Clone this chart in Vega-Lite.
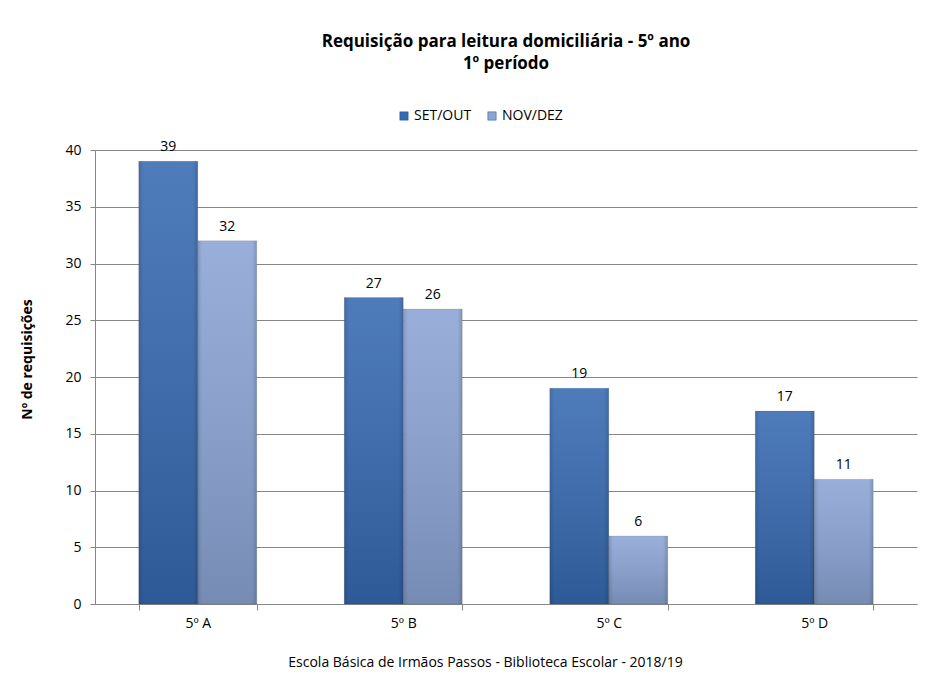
{
  "$schema": "https://vega.github.io/schema/vega-lite/v6.json",
  "width": 822,
  "height": 454,
  "autosize": {"type": "none"},
  "padding": {"left": 95, "top": 150, "right": 28, "bottom": 76},
  "background": "white",
  "title": {
    "text": ["Requisição para leitura domiciliária - 5º ano", "1º período"],
    "font": "Open Sans",
    "fontSize": 17,
    "fontWeight": "bold",
    "color": "#000000",
    "lineHeight": 22,
    "anchor": "middle",
    "offset": 36
  },
  "config": {
    "view": {"stroke": null},
    "font": "Open Sans",
    "axis": {"labelFont": "Open Sans", "titleFont": "Open Sans", "labelColor": "#000000", "titleColor": "#000000"}
  },
  "data": {
    "values": [
      {"turma": "5º A", "periodo": "SET/OUT", "valor": 39},
      {"turma": "5º A", "periodo": "NOV/DEZ", "valor": 32},
      {"turma": "5º B", "periodo": "SET/OUT", "valor": 27},
      {"turma": "5º B", "periodo": "NOV/DEZ", "valor": 26},
      {"turma": "5º C", "periodo": "SET/OUT", "valor": 19},
      {"turma": "5º C", "periodo": "NOV/DEZ", "valor": 6},
      {"turma": "5º D", "periodo": "SET/OUT", "valor": 17},
      {"turma": "5º D", "periodo": "NOV/DEZ", "valor": 11}
    ]
  },
  "encoding": {
    "x": {
      "field": "turma",
      "type": "nominal",
      "sort": null,
      "scale": {"paddingInner": 0.426, "paddingOuter": 0.213},
      "axis": {
        "title": "Escola Básica de Irmãos Passos - Biblioteca Escolar  - 2018/19",
        "titleFontSize": 14,
        "titleFontWeight": "normal",
        "titleX": 390,
        "titleY": 58,
        "titleAlign": "center",
        "titleBaseline": "middle",
        "labelAngle": 0,
        "labelFontSize": 14,
        "labelPadding": 6,
        "tickBand": "extent",
        "tickSize": 6,
        "tickColor": "#868686",
        "domainColor": "#868686",
        "grid": false
      }
    },
    "xOffset": {
      "field": "periodo",
      "type": "nominal",
      "sort": ["SET/OUT", "NOV/DEZ"],
      "scale": {"paddingInner": 0, "paddingOuter": 0}
    },
    "y": {
      "field": "valor",
      "type": "quantitative",
      "scale": {"domain": [0, 40], "nice": false},
      "axis": {
        "title": "Nº de requisições",
        "titleFontSize": 14,
        "titleFontWeight": "bold",
        "titleX": -68,
        "titleY": 209,
        "titleBaseline": "middle",
        "values": [0, 5, 10, 15, 20, 25, 30, 35, 40],
        "labelFontSize": 14,
        "labelPadding": 9,
        "tickSize": 5,
        "tickColor": "#868686",
        "domainColor": "#868686",
        "gridColor": "#868686",
        "grid": true
      }
    }
  },
  "layer": [
    {
      "mark": {"type": "bar"},
      "encoding": {
        "color": {
          "field": "periodo",
          "type": "nominal",
          "sort": ["SET/OUT", "NOV/DEZ"],
          "scale": {"domain": ["SET/OUT", "NOV/DEZ"], "range": ["#3669b1", "#8ba4d4"]},
          "legend": {
            "title": null,
            "orient": "none",
            "direction": "horizontal",
            "legendX": 302,
            "legendY": -41,
            "padding": 0,
            "symbolType": "square",
            "symbolSize": 70,
            "symbolStrokeColor": "#2a5590",
            "symbolStrokeWidth": 0.5,
            "labelFontSize": 14,
            "labelFont": "Open Sans",
            "labelColor": "#000000",
            "labelOffset": 3,
            "columnPadding": 13
          }
        }
      }
    },
    {
      "mark": {
        "type": "bar",
        "fill": {
          "gradient": "linear",
          "x1": 0, "y1": 0, "x2": 0, "y2": 1,
          "stops": [
            {"offset": 0, "color": "rgba(255,255,255,0.12)"},
            {"offset": 1, "color": "rgba(0,0,0,0.15)"}
          ]
        }
      }
    },
    {
      "mark": {
        "type": "bar",
        "fill": {
          "gradient": "linear",
          "x1": 0, "y1": 0, "x2": 1, "y2": 0,
          "stops": [
            {"offset": 0, "color": "rgba(0,0,0,0.12)"},
            {"offset": 0.08, "color": "rgba(0,0,0,0)"},
            {"offset": 0.92, "color": "rgba(0,0,0,0)"},
            {"offset": 1, "color": "rgba(0,0,0,0.15)"}
          ]
        },
        "stroke": "rgba(0,0,0,0.15)",
        "strokeWidth": 0.6
      }
    },
    {
      "mark": {"type": "text", "dy": -14, "fontSize": 14, "font": "Open Sans", "color": "#000000"},
      "encoding": {"text": {"field": "valor", "type": "quantitative"}}
    }
  ]
}
